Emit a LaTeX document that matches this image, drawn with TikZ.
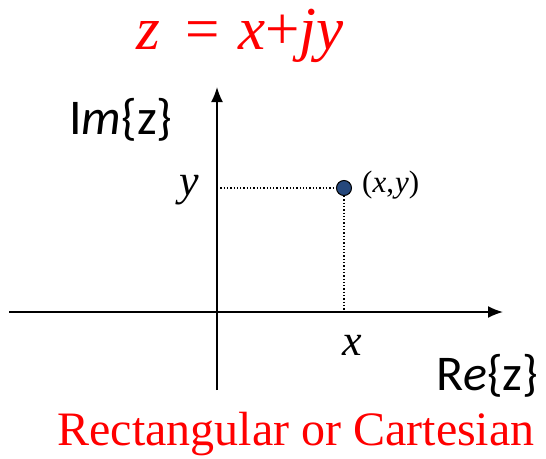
\documentclass[tikz,border=0pt]{standalone}
\usepackage{fontspec}
\setmainfont{Liberation Serif}
\newfontfamily\calibri{Carlito}
\usetikzlibrary{arrows.meta,positioning}
\definecolor{ptblue}{RGB}{38,72,124}
\tikzset{>={Latex[length=15pt,width=12pt]}}
\tikzset{axis/.style={line width=1.7pt, ->},
  guide/.style={dotted, line width=1.3pt},
  redtext/.style={text=red, inner sep=0pt},
  axlabel/.style={inner sep=0pt, font=\calibri\fontsize{50}{50}\selectfont},
  varlabel/.style={inner sep=0pt, font=\fontsize{44}{44}\selectfont\itshape}}

\begin{document}
\begin{tikzpicture}[x=1pt, y=-1pt]
  \useasboundingbox (0,0) rectangle (546,458);
  \coordinate (O) at (217, 312); %
  \coordinate (left) at (9, 312); %
  \coordinate (right) at (503, 312); %
  \coordinate (top) at (217, 87); %
  \coordinate (bottom) at (217, 390); %
  \coordinate (yaxis) at (217, 188); %
  \coordinate (xaxis) at (344, 312); %
  % axes
  \draw[axis] (left) -- (right);
  \draw[axis] (bottom) -- (top);
  % the point and its projections
  \node[circle, draw=black, fill=ptblue, line width=1pt, minimum size=15pt,
    inner sep=0pt] (P) at (344, 188) {};
  \draw[guide] (yaxis) -- (P.west);
  \draw[guide] (P.south) -- (xaxis);
  \node[anchor=base west, inner sep=0pt,
    font=\fontsize{31}{31}\selectfont] (Plabel) at (362, 192)
    {(\textit{x},\kern1pt\textit{y})};
  % labels
  \node[varlabel, anchor=base] (ylab) at (189, 195) {y};
  \node[varlabel, anchor=base] (xlab) at (352, 355) {x};
  \node[axlabel, anchor=base west] (Im) at (69, 134) {I\textit{m}\{z\}};
  \node[axlabel, anchor=base west] (Re) at (436, 390) {R\textit{e}\{z\}};
  \node[redtext, anchor=base, font=\fontsize{61}{61}\selectfont] (title)
    at (240, 49) {\textit{z}\hspace{0.42em}=\hspace{0.3em}\textit{x}+\textit{jy}};
  \node[redtext, anchor=base, font=\fontsize{48}{48}\selectfont] (kind)
    at (296, 445) {Rectangular or Cartesian};
\end{tikzpicture}
\end{document}
